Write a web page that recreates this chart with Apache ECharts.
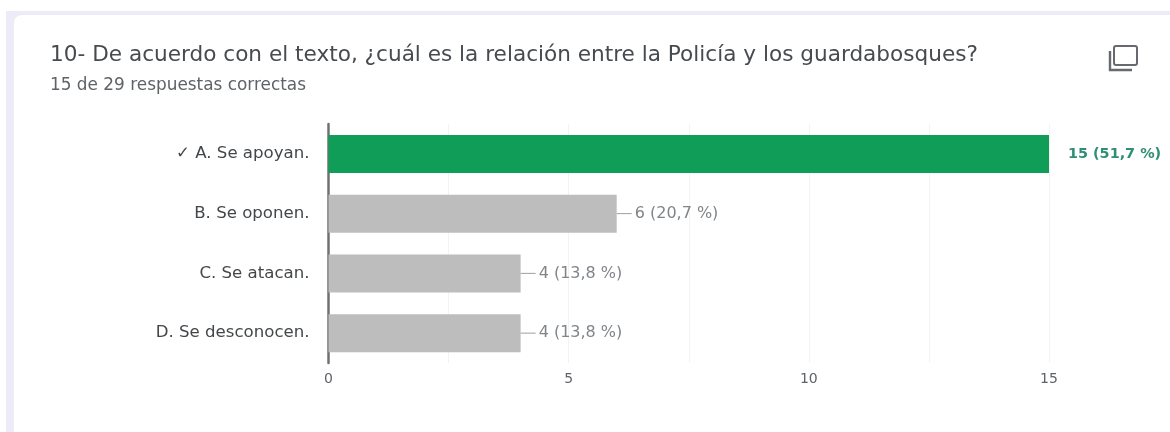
<!DOCTYPE html>
<html>
<head>
<meta charset="utf-8">
<style>html,body{margin:0;padding:0;background:#fff;overflow:hidden}#c{width:1170px;height:432px;filter:blur(0.45px)}</style>
<script src="https://cdn.jsdelivr.net/npm/echarts@6/dist/echarts.min.js"></script>
</head>
<body>
<div id="c"></div>
<script>
const titleText = '10- De acuerdo con el texto, ¿cuál es la relación entre la Policía y los guardabosques?';
const subtitleText = '15 de 29 respuestas correctas';
const categories = ['✓ A. Se apoyan.', 'B. Se oponen.', 'C. Se atacan.', 'D. Se desconocen.'];
const counts = [15, 6, 4, 4];
const percents = ['51,7', '20,7', '13,8', '13,8'];
const correct = [true, false, false, false];
const FONT = 'DejaVu Sans';

const chart = echarts.init(document.getElementById('c'), null, {renderer: 'canvas'});
chart.setOption({
  animation: false,
  backgroundColor: '#ffffff',
  title: [
    {text: titleText, left: 45, top: 39, textStyle: {fontFamily: FONT, fontSize: 21.6, fontWeight: 'normal', color: '#474a4e'}},
    {text: subtitleText, left: 45, top: 72, textStyle: {fontFamily: FONT, fontSize: 16.9, fontWeight: 'normal', color: '#5f6368'}}
  ],
  graphic: [
    {type: 'rect', z: -10, silent: true, shape: {x: 6, y: 11, width: 1164, height: 421}, style: {fill: '#eeebf8'}},
    {type: 'rect', z: -9, silent: true, shape: {x: 14, y: 15, width: 1156, height: 417, r: [8, 0, 0, 0]}, style: {fill: '#ffffff'}},
    {type: 'rect', z: 5, silent: true, shape: {x: 1114, y: 46, width: 23, height: 19, r: 2}, style: {fill: 'none', stroke: '#666a6e', lineWidth: 2}},
    {type: 'polyline', z: 5, silent: true, shape: {points: [[1110, 51], [1110, 70], [1132, 70]]}, style: {fill: 'none', stroke: '#666a6e', lineWidth: 2.4}}
  ],
  grid: {left: 328.5, right: 121, top: 124, bottom: 69},
  xAxis: {
    type: 'value', min: 0, max: 15, interval: 2.5,
    axisLine: {show: false}, axisTick: {show: false},
    splitLine: {show: true, lineStyle: {color: '#f3f3f3', width: 1}},
    axisLabel: {
      margin: 9, fontFamily: FONT, fontSize: 14, color: '#5f6368',
      formatter: v => (v % 5 === 0 ? String(v) : '')
    }
  },
  yAxis: {
    type: 'category', inverse: true, data: categories,
    axisLine: {show: true, lineStyle: {color: '#707070', width: 2.5}},
    axisTick: {show: false},
    axisLabel: {margin: 19, fontFamily: FONT, fontSize: 16.6, color: '#44474a'}
  },
  series: [{
    type: 'bar', barWidth: 38, z: 3,
    data: counts.map((v, i) => ({
      value: v,
      itemStyle: {color: correct[i] ? '#0f9d58' : '#bdbdbd'},
      label: correct[i]
        ? {distance: 19, color: '#2f8f74', fontWeight: 'bold', fontSize: 14.4, formatter: `${v} (${percents[i]} %)`}
        : {distance: 0, formatter: `{dash|}{txt|${v} (${percents[i]} %)}`}
    })),
    label: {
      show: true, position: 'right', fontFamily: FONT, fontSize: 16, color: '#80858a',
      rich: {
        dash: {width: 15, height: 1, backgroundColor: '#9e9e9e'},
        txt: {fontFamily: FONT, fontSize: 16, color: '#80858a', padding: [0, 0, 0, 3]}
      }
    }
  }]
});
</script>
</body>
</html>
